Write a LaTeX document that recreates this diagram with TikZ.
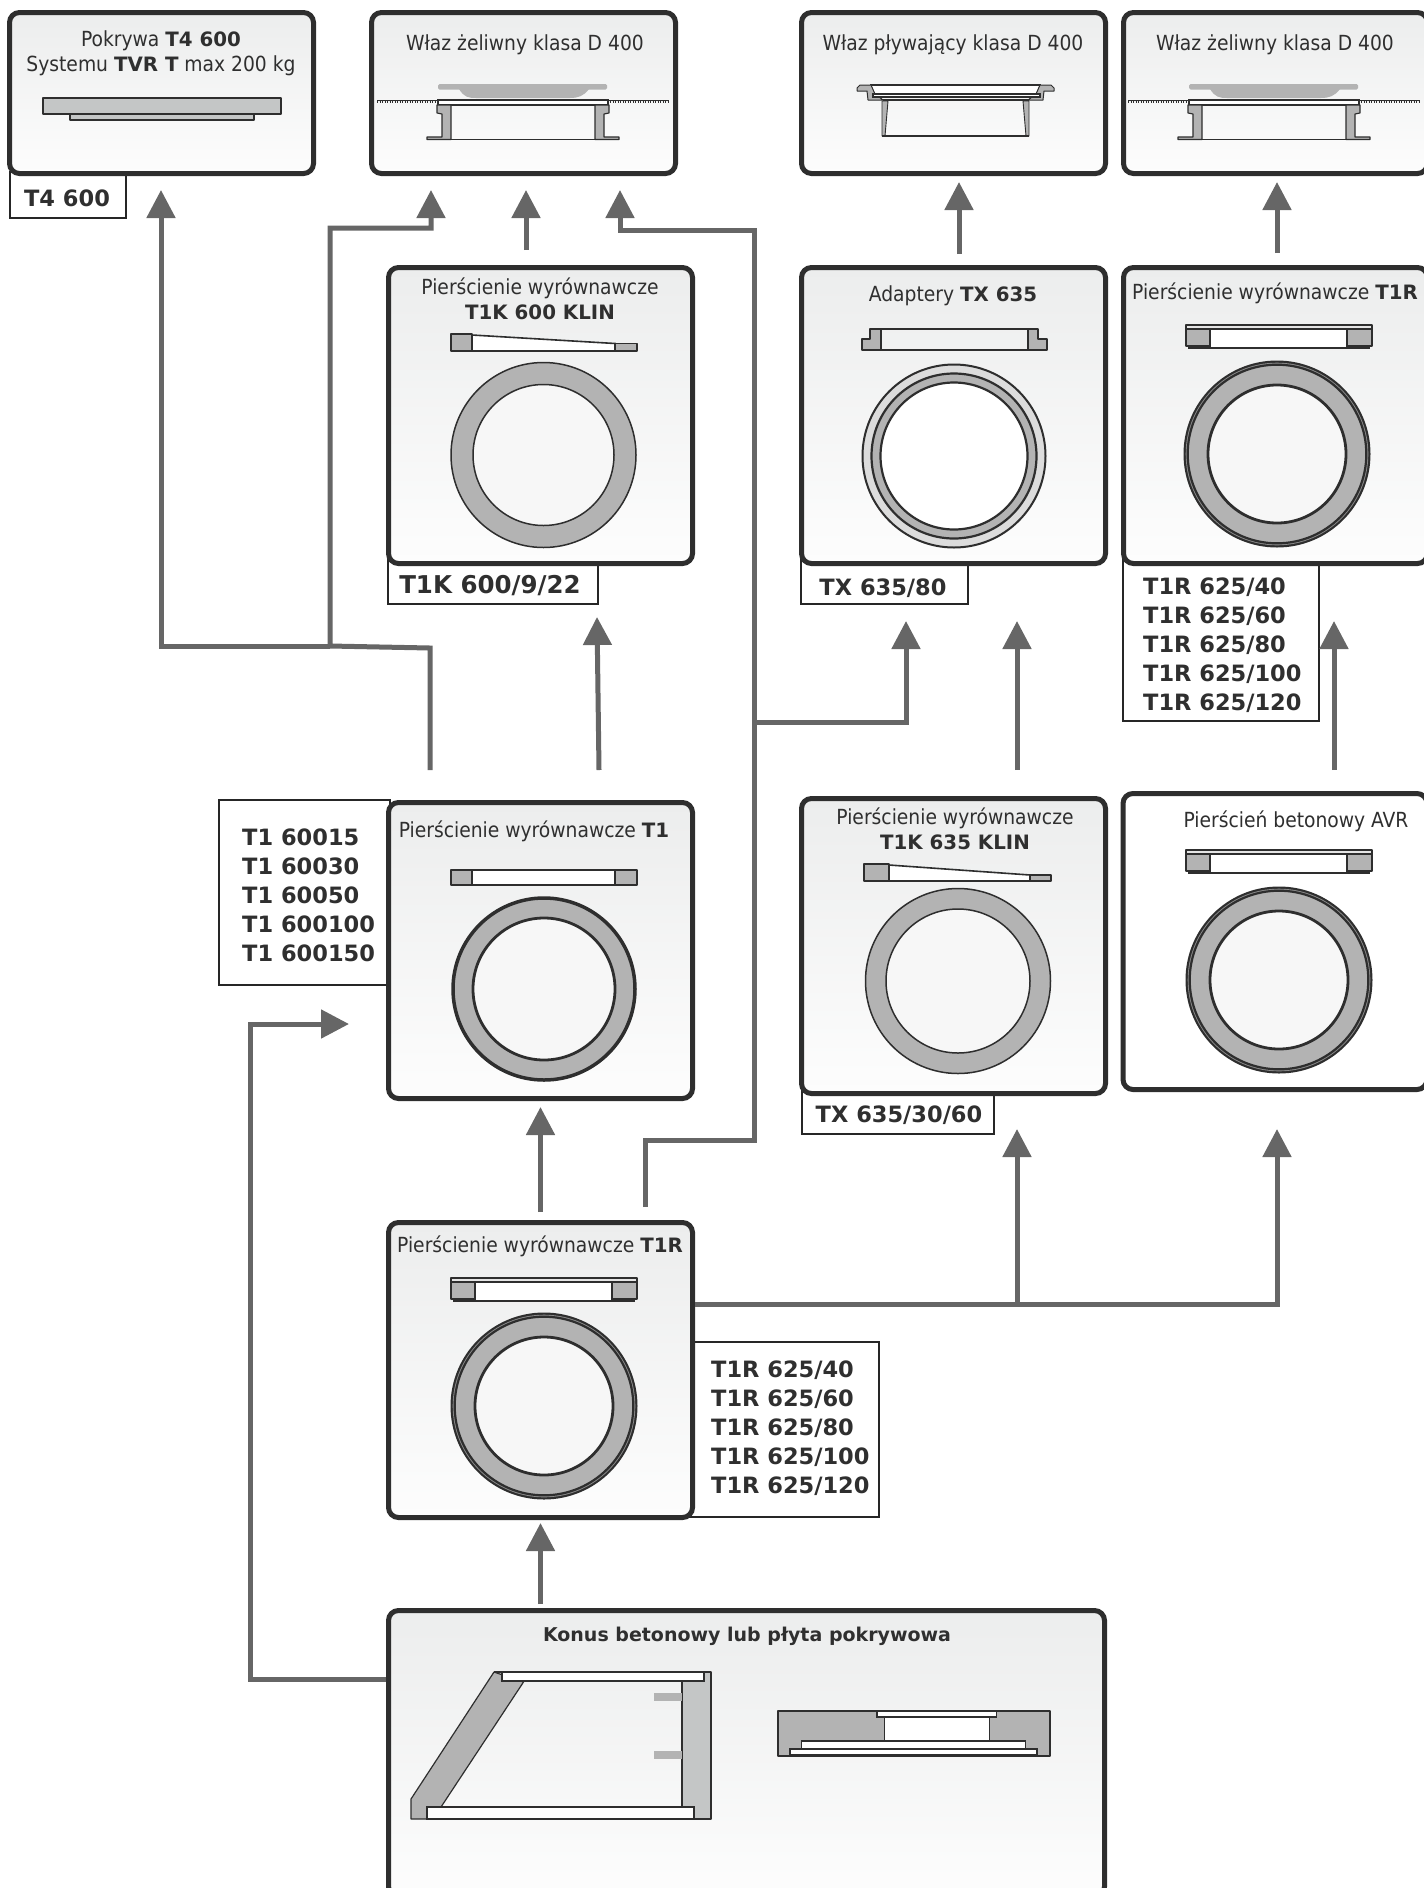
\documentclass[tikz,border=0pt]{standalone}
\usepackage{fontspec}
\setmainfont{DejaVu Sans Condensed}
\newfontfamily\boldfam{DejaVu Sans}
\usetikzlibrary{arrows.meta}
\newcommand{\bb}[1]{{\fontsize{19.8}{25}\boldfam\bfseries #1}}
\definecolor{txt}{HTML}{2F2F2F}
\definecolor{edge}{HTML}{2E2E2E}
\definecolor{flow}{HTML}{666666}
\definecolor{conc}{HTML}{B3B3B3}
\definecolor{concl}{HTML}{C4C6C6}
\definecolor{pale}{HTML}{DCDCDC}
\definecolor{shtop}{HTML}{ECEDED}
\definecolor{shbot}{HTML}{FDFDFD}
\tikzset{
 x=1pt,y=-1pt,
 panel/.style={draw=edge,line width=5pt,rounded corners=10pt,top color=shtop,bottom color=shbot,inner sep=0pt},
 codebox/.style={draw=black!85,line width=1.1pt,fill=white,inner sep=0pt},
 title/.style={text=txt,font=\fontsize{20.8}{25}\selectfont,align=center,inner sep=0pt},
 code/.style={text=txt,font=\fontsize{22.5}{29}\boldfam\bfseries,align=left,inner sep=0pt},
 flowline/.style={draw=flow,line width=5pt,line join=miter},
 flowarrow/.style={flowline,-{Triangle[width=28pt,length=28pt]}},
 sect/.style={draw=edge,line width=1.3pt,fill=conc,line join=round},
 sectl/.style={draw=edge,line width=1.3pt,fill=concl,line join=round},
 void/.style={draw=edge,line width=1.6pt,fill=white},
 ringo/.style={draw=edge,line width=1.5pt,fill=conc},
}
% name, x1,y1,x2,y2 (outer edges)
\newcommand{\panelbox}[5]{\node[panel,minimum width={(#4-#2-5)*1pt},minimum height={(#5-#3-5)*1pt}] (#1) at ({(#2+#4)/2},{(#3+#5)/2}) {};}
\newcommand{\codeframe}[5]{\node[codebox,minimum width={(#4-#2)*1pt},minimum height={(#5-#3)*1pt}] (#1) at ({(#2+#4)/2},{(#3+#5)/2}) {};}
% heavy double ring: cx,cy
\newcommand{\heavyring}[2]{%
 \fill[edge] (#1,#2) circle[radius=93.5];
 \fill[white!55!black] (#1,#2) circle[radius=91.3];
 \draw[edge,line width=2.2pt,fill=conc] (#1,#2) circle[radius=89.3];
 \draw[draw=edge,fill=white!97!black,line width=2.8pt] (#1,#2) circle[radius=69];}
\newcommand{\thinring}[3]{%
 \draw[ringo] (#1,#2) circle[radius=92.5];
 \draw[draw=edge,line width=1.5pt,fill=white!97!black] (#1,#2) circle[radius=#3];}
% rebated ring profile: origin at x=451,y=1278 in the lowest panel
\newcommand{\rprofile}[2]{\begin{scope}[shift={(#1,#2)}]
 \draw[sect,fill=white!90!black] (451,1278) rectangle (637,1282);
 \draw[sect,fill=conc] (451,1282) rectangle (475,1299);
 \draw[sect,fill=conc] (612,1282) rectangle (637,1299);
 \draw[void] (475,1282) rectangle (612,1301);
 \draw[edge,line width=1.3pt] (454,1299) -- (454,1301) -- (475,1301) (612,1301) -- (634,1301) -- (634,1299);
\end{scope}}
% cast manhole
\newcommand{\castcover}[1]{\begin{scope}[shift={(#1,0)}]
 \draw[edge,line width=1pt] (377,100) -- (438,100) (608,100) -- (669,100);
 \draw[edge,line width=2pt,dash pattern=on 1pt off 1.5pt] (377,102) -- (436,102) (610,102) -- (669,102);
 \fill[conc,rounded corners=1.5pt] (438,84) rectangle (607,89.5);
 \fill[conc] (459,89) .. controls (464,97) and (468,98) .. (476,98) -- (570,98) .. controls (578,98) and (584,96) .. (589,89) -- cycle;
 \draw[void,line width=1.2pt] (438,100) rectangle (608,105);
 \draw[sect,line width=1.1pt] (437,105) -- (451,105) -- (451,139.5) -- (427,139.5) -- (427,137) -- (442,137) -- (442,114) -- (437,113) -- cycle;
 \draw[sect,line width=1.1pt] (609,105) -- (595,105) -- (595,139.5) -- (619,139.5) -- (619,137) -- (604,137) -- (604,114) -- (609,113) -- cycle;
 \draw[edge,line width=1.2pt] (451,139.5) -- (595,139.5);
\end{scope}}
\begin{document}
\begin{tikzpicture}
\useasboundingbox (0,0) rectangle (1424,1888);
% ---- code frames
\codeframe{c1}{10}{172}{126}{218}
\codeframe{c2}{388}{560}{598}{604}
\codeframe{c3}{801}{560}{968}{604}
\codeframe{c4}{1123}{560}{1319}{721}
\codeframe{c5}{219}{800}{390}{985}
\codeframe{c6}{802}{1090}{994}{1134}
\codeframe{c7}{690}{1342}{879}{1517}
% ---- panels
\panelbox{p1}{7}{10}{316}{176}
\panelbox{p2}{369}{10}{678}{176}
\panelbox{p3}{799}{10}{1108}{176}
\panelbox{p4}{1121}{10}{1430}{176}
\panelbox{p5}{386}{265}{695}{566}
\panelbox{p6}{799}{265}{1108}{566}
\panelbox{p7}{1121}{265}{1430}{566}
\panelbox{p8}{386}{800}{695}{1101}
\panelbox{p9}{799}{796}{1108}{1096}
\node[draw=edge,line width=5pt,rounded corners=10pt,fill=white,inner sep=0pt,minimum width=304pt,minimum height=296pt] (p10) at (1275,941.5) {};
\panelbox{p11}{386}{1220}{695}{1520}
\panelbox{p12}{386}{1608}{1107}{1899}
% ---- titles
\node[title] (t1) at (161,53) {Pokrywa \bb{T4 600}\\Systemu \bb{TVR T} max 200 kg};
\node[title] (t2) at (525,45) {Właz żeliwny klasa D 400};
\node[title] (t3) at (953,45) {Właz pływający klasa D 400};
\node[title] (t4) at (1275,45) {Właz żeliwny klasa D 400};
\node[title] (t5) at (540,299) {Pierścienie wyrównawcze\\\bb{T1K 600 KLIN}};
\node[title] (t6) at (953,296) {Adaptery \bb{TX 635}};
\node[title] (t7) at (1275,293) {Pierścienie wyrównawcze \bb{T1R}};
\node[title] (t8) at (534,831) {Pierścienie wyrównawcze \bb{T1}};
\node[title] (t9) at (955,829) {Pierścienie wyrównawcze\\\bb{T1K 635 KLIN}};
\node[title] (t10) at (1296,821) {Pierścień betonowy AVR};
\node[title] (t11) at (540,1246) {Pierścienie wyrównawcze \bb{T1R}};
\node[title,font=\fontsize{19}{24}\boldfam\bfseries] (t12) at (747,1636) {Konus betonowy lub płyta pokrywowa};
% ---- codes
\node[code] (k1) at (67,198) {T4 600};
\node[code,font=\fontsize{24.5}{29}\boldfam\bfseries] (k2) at (490,586) {T1K 600/9/22};
\node[code] (k3) at (883,588) {TX 635/80};
\node[code,anchor=west] (k4) at (1143,645) {T1R 625/40\\T1R 625/60\\T1R 625/80\\T1R 625/100\\T1R 625/120};
\node[code,anchor=west] (k5) at (242,895) {T1 60015\\T1 60030\\T1 60050\\T1 600100\\T1 600150};
\node[code] (k6) at (899,1115) {TX 635/30/60};
\node[code,anchor=west] (k7) at (711,1428) {T1R 625/40\\T1R 625/60\\T1R 625/80\\T1R 625/100\\T1R 625/120};
% ---- T4 plate
\draw[sectl,line width=2pt] (43,98) rectangle (281,114);
\draw[sectl,line width=1.5pt] (70,114) rectangle (254,120);
% ---- manholes
\castcover{0}
\castcover{751}
% floating manhole
\draw[void,line width=1.2pt] (871,85) rectangle (1040,94);
\draw[sect,line width=1pt] (871,85) -- (860,85) -- (857,88) -- (857,91) -- (867,91) -- (868,100) -- (883,100) -- (875,94) -- cycle;
\draw[sect,line width=1pt] (1040,85) -- (1051,85) -- (1054,88) -- (1054,91) -- (1044,91) -- (1043,100) -- (1028,100) -- (1036,94) -- cycle;
\draw[void,line width=1.2pt] (873,94) rectangle (1040,97);
\draw[edge,line width=1.2pt] (883,100) -- (1029,100);
\draw[sect,line width=.9pt] (882,101) -- (888,101) -- (885,136) -- (882,136) -- cycle;
\draw[sect,line width=.9pt] (1029,101) -- (1023,101) -- (1026,136) -- (1029,136) -- cycle;
\draw[edge,line width=1.2pt] (882,136) -- (1029,136);
% ---- wedge T1K 600
\draw[sect] (451,334) rectangle (472,351);
\draw[void] (472,335) -- (615,343.5) -- (615,351) -- (472,351) -- cycle;
\draw[sect] (615,343.5) rectangle (637,351);
\thinring{543.5}{455}{70.5}
% ---- adapter
\draw[edge,line width=1.5pt] (881,329) -- (1028,329) (881,350) -- (1028,350);
\draw[sect,line width=1.5pt] (862,350) -- (862,339) -- (870,339) -- (870,329) -- (881,329) -- (881,350) -- cycle;
\draw[sect,line width=1.5pt] (1047,350) -- (1047,339) -- (1038,339) -- (1038,329) -- (1028,329) -- (1028,350) -- cycle;
\draw[edge,line width=2pt,fill=pale] (954,456) circle[radius=91.5];
\draw[edge,line width=2.2pt,fill=conc] (954,456) circle[radius=82.5];
\draw[edge,line width=2.2pt,fill=white] (954,456) circle[radius=73.5];
% ---- T1R top and bottom, AVR
\rprofile{735}{-953}
\heavyring{1277}{454}
\rprofile{735}{-428}
\heavyring{1279}{980}
\rprofile{0}{0}
\heavyring{544}{1406}
% ---- T1
\draw[sect] (451,870) rectangle (472,885);
\draw[void] (472,870) rectangle (615,885);
\draw[sect] (615,870) rectangle (637,885);
\draw[edge,line width=3.5pt,fill=conc] (544,989) circle[radius=91];
\draw[draw=edge,fill=white!97!black,line width=2.8pt] (544,989) circle[radius=71];
% ---- wedge T1K 635
\draw[sect] (864,864) rectangle (889,881);
\draw[void] (889,865) -- (1030,875) -- (1030,881) -- (889,881) -- cycle;
\draw[sect] (1030,875) rectangle (1051,881);
\thinring{958}{981}{72}
% ---- cone
\draw[sect,line width=1.2pt] (494,1672) -- (523.5,1682) -- (441,1807) -- (427,1819) -- (411,1819) -- (411,1799) -- cycle;
\draw[sectl,line width=1.2pt] (682,1672) rectangle (711,1819);
\draw[draw=edge,line width=1.2pt] (494,1672) -- (711,1672);
\draw[void,line width=1.2pt] (502,1672) rectangle (704,1681);
\draw[void,line width=1.2pt] (427,1807) rectangle (694,1819);
\fill[conc] (654,1693) rectangle (681.5,1701);
\fill[conc] (654,1751) rectangle (681.5,1759);
% ---- cover slab
\draw[sect,line width=1.3pt] (778,1711) rectangle (1050,1756);
\draw[void,line width=1.3pt] (884.5,1717) rectangle (989.5,1741);
\draw[void,line width=1.3pt] (877,1711.5) rectangle (996.5,1717);
\draw[void,line width=1.3pt] (801.5,1741) rectangle (1025.5,1749);
\draw[void,line width=1.3pt] (790,1749) rectangle (1037,1755);
% ---- connector points
\coordinate (a1tip) at (161,190);
\coordinate (a2tip) at (431,190);
\coordinate (a3tip) at (526,190);
\coordinate (a3base) at (526,250);
\coordinate (a4tip) at (620,190);
\coordinate (a5tip) at (959,182);
\coordinate (a5base) at (959,254);
\coordinate (a6tip) at (1277,182);
\coordinate (a6base) at (1277,253);
\coordinate (b1) at (161,646);
\coordinate (b2) at (330,646);
\coordinate (b3) at (430,648);
\coordinate (b4) at (430,770);
\coordinate (b5) at (330,228);
\coordinate (b6) at (431,228);
\coordinate (d1) at (620,230);
\coordinate (d2) at (754,230);
\coordinate (d3) at (754,1140);
\coordinate (d4) at (645,1140);
\coordinate (d5) at (645,1207);
\coordinate (d6) at (754,722);
\coordinate (d7) at (906,722);
\coordinate (d8tip) at (906,621);
\coordinate (e1) at (599,770);
\coordinate (e1tip) at (597,617);
\coordinate (e2) at (1017,770);
\coordinate (e2tip) at (1017,621);
\coordinate (e3) at (1334,770);
\coordinate (e3tip) at (1334,621);
\coordinate (f1) at (540.5,1212);
\coordinate (f1tip) at (540.5,1107);
\coordinate (f2) at (540.5,1604);
\coordinate (f2tip) at (540.5,1523);
\coordinate (g1) at (250,1679);
\coordinate (g2) at (250,1024);
\coordinate (g3tip) at (349,1024);
\coordinate (h1) at (1277,1304);
\coordinate (h1tip) at (1277,1129);
\coordinate (h2) at (1017,1304);
\coordinate (h2tip) at (1017,1129);
% ---- connectors
\draw[flowarrow] (b2) -- (b1) -- (a1tip);
\draw[flowarrow] (b4) -- (b3) -- (b2) -- (b5) -- (b6) -- (a2tip);
\draw[flowarrow] (a3base) -- (a3tip);
\draw[flowarrow] (d5) -- (d4) -- (d3) -- (d2) -- (d1) -- (a4tip);
\draw[flowarrow] (d6) -- (d7) -- (d8tip);
\draw[flowarrow] (a5base) -- (a5tip);
\draw[flowarrow] (a6base) -- (a6tip);
\draw[flowarrow] (e1) -- (e1tip);
\draw[flowarrow] (e2) -- (e2tip);
\draw[flowarrow] (e3) -- (e3tip);
\draw[flowarrow] (f1) -- (f1tip);
\draw[flowarrow] (f2) -- (f2tip);
\draw[flowarrow] (p12.west |- g1) -- (g1) -- (g2) -- (g3tip);
\draw[flowarrow] (p11.east |- h1) -- (h1) -- (h1tip);
\draw[flowarrow] (h2) -- (h2tip);
\end{tikzpicture}
\end{document}
